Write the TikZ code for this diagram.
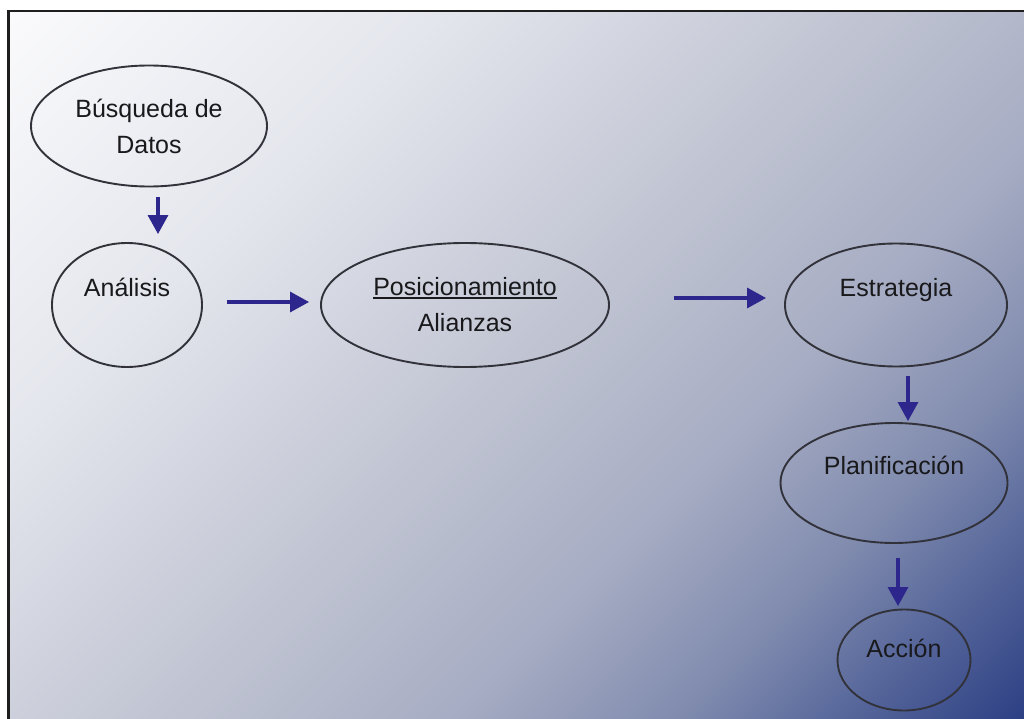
\documentclass[tikz,border=0pt]{standalone}
\usepackage{fontspec}
\setmainfont{Liberation Sans}
\usetikzlibrary{shapes.geometric,arrows.meta,calc}
\definecolor{c0}{RGB}{250,250,252}
\definecolor{c25}{RGB}{228,230,237}
\definecolor{c50}{RGB}{192,196,210}
\definecolor{c67}{RGB}{166,172,195}
\definecolor{c80}{RGB}{128,139,174}
\definecolor{c90}{RGB}{85,101,154}
\definecolor{c100}{RGB}{45,64,132}
\definecolor{framecol}{RGB}{30,30,30}
\definecolor{ovalcol}{RGB}{50,50,58}
\definecolor{txtcol}{RGB}{25,25,28}
\definecolor{arrcol}{RGB}{45,38,140}
\pgfdeclarehorizontalshading{bgshade}{100bp}{color(0bp)=(c0); color(14.64bp)=(c0); color(32.32bp)=(c25); color(50bp)=(c50); color(62bp)=(c67); color(71.2bp)=(c80); color(78.3bp)=(c90); color(85.36bp)=(c100); color(100bp)=(c100)}
\newcommand{\myul}[1]{\setbox0\hbox{#1}\rlap{\rule[-3pt]{\wd0}{1.8pt}}\box0}
\begin{document}
\begin{tikzpicture}[x=1pt,y=-1pt,
  oval/.style={ellipse, draw=ovalcol, line width=1.9pt, inner sep=0pt,
    font=\fontsize{25}{36}\selectfont, text=txtcol},
  arr/.style={draw=arrcol, line width=3.2pt, -{Triangle[length=19pt,width=20pt]}}]
\useasboundingbox (0,0) rectangle (1024,719);
\fill[white] (0,0) rectangle (1024,719);
\shade[shading=bgshade, shading angle=-45] (9.5,12) rectangle (1024,719);
\draw[framecol, line width=2.6pt] (8.5,719) -- (8.5,11) -- (1024,11);
% nodes
\node[oval, minimum width=236pt, minimum height=121pt, align=center] (bus) at (149,126) {Búsqueda de\\Datos};
\node[oval, minimum width=150pt, minimum height=124pt, text height=18pt, text depth=36pt] (ana) at (127,305) {Análisis};
\node[oval, minimum width=288pt, minimum height=124pt, align=center] (pos) at (465,305) {\myul{Posicionamiento}\\Alianzas};
\node[oval, minimum width=222pt, minimum height=123pt, text height=18pt, text depth=36pt] (est) at (896,305) {Estrategia};
\node[oval, minimum width=227pt, minimum height=120pt, text height=18pt, text depth=36pt] (pla) at (894,483) {Planificación};
\node[oval, minimum width=133pt, minimum height=101pt, text height=18pt, text depth=24pt] (acc) at (904,660) {Acción};
% connectors
\draw[arr] ($(bus.south)+(9,10)$) -- ($(ana.north)+(31,-8)$);
\draw[arr] ($(ana.east)+(24,-3)$) -- ($(pos.west)+(-11,-3)$);
\draw[arr] ($(pos.east)+(64,-7)$) -- ($(est.west)+(-18,-7)$);
\draw[arr] ($(est.south)+(12,8.5)$) -- ($(pla.north)+(14,-1)$);
\draw[arr] ($(pla.south)+(4,14)$) -- ($(acc.north)+(-6,-2.5)$);
\end{tikzpicture}
\end{document}
